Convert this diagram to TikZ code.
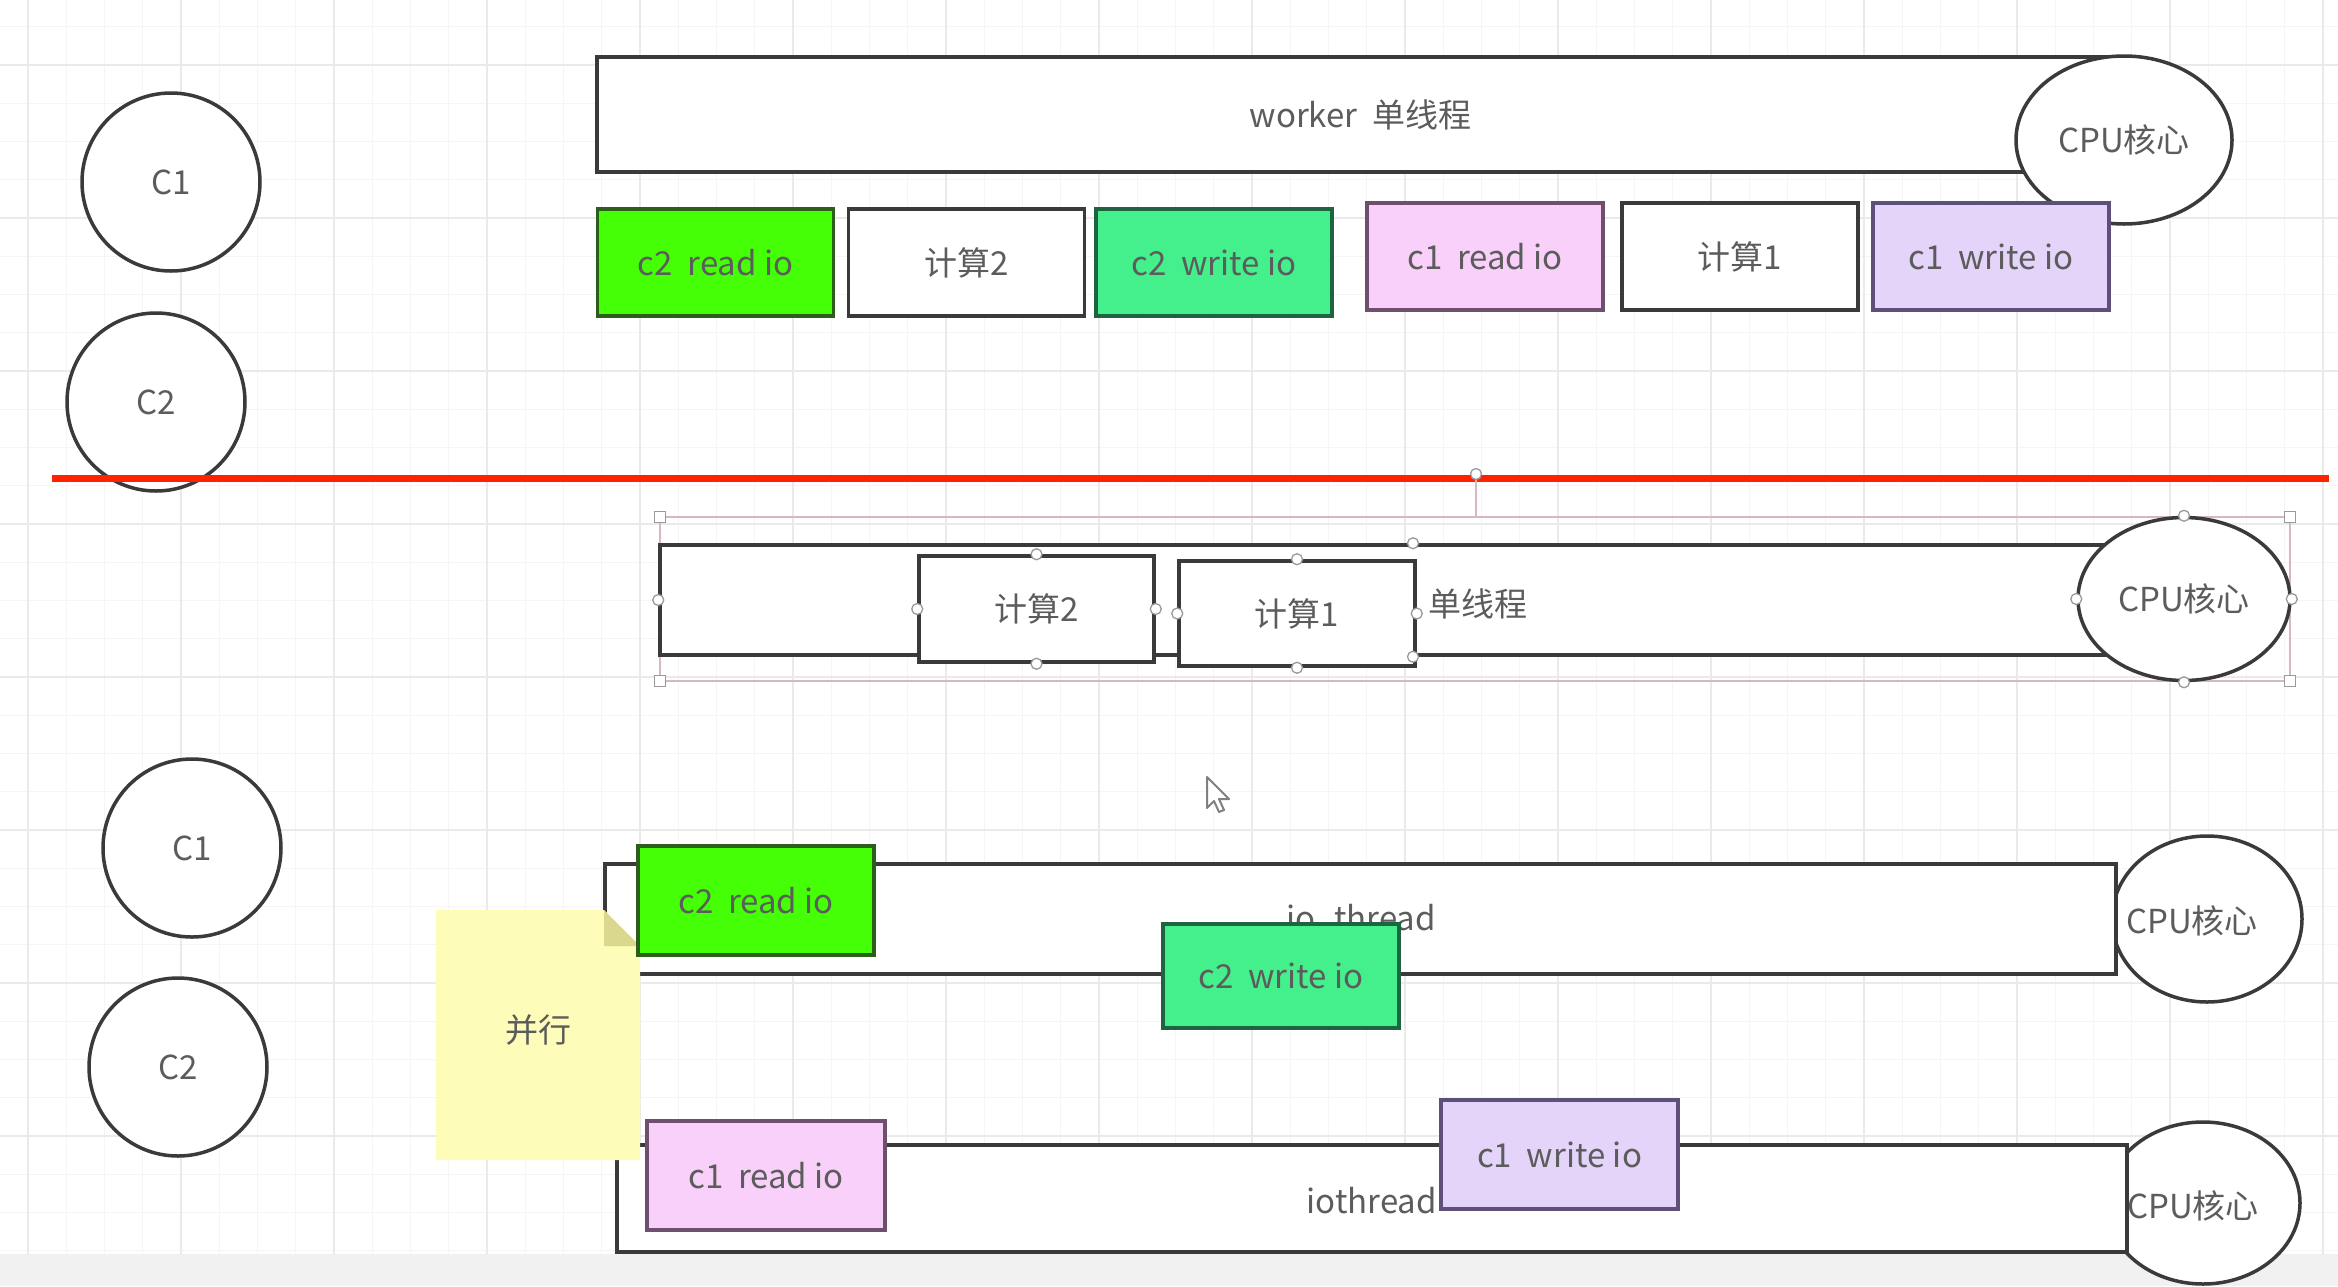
\documentclass[tikz,border=0pt]{standalone}
\usepackage{fontspec}
\setmainfont{Noto Sans CJK SC}
\usetikzlibrary{shapes.geometric}
\definecolor{ink}{HTML}{3A3A3A}
\definecolor{txt}{HTML}{5C5C5C}
\definecolor{gA}{HTML}{44FF06}
\definecolor{gAb}{HTML}{2B5E1A}
\definecolor{gB}{HTML}{44F08C}
\definecolor{gBb}{HTML}{1F6440}
\definecolor{pk}{HTML}{F9D0FA}
\definecolor{pkb}{HTML}{6E506E}
\definecolor{lv}{HTML}{E4D4FA}
\definecolor{lvb}{HTML}{5E5078}
\definecolor{notec}{HTML}{FDFCB8}
\definecolor{foldc}{HTML}{D9D88E}
\definecolor{redl}{HTML}{FF2200}
\definecolor{gridmin}{HTML}{F5F5F5}
\definecolor{gridmaj}{HTML}{EAEAEA}
\definecolor{bandc}{HTML}{F1F1F1}
\definecolor{selc}{HTML}{D6B9BE}
\definecolor{hdlc}{HTML}{9A9A9A}
\tikzset{
  lbl/.style={text=txt, font=\fontsize{33}{40}\selectfont},
  shp/.style={draw=ink, line width=3.5pt, fill=white, lbl, inner sep=0pt},
  barbox/.style={shp, rectangle},
  oval/.style={shp, ellipse},
  client/.style={oval, minimum width=178pt, minimum height=178pt},
  task/.style={shp, rectangle, minimum width=236pt, minimum height=107pt},
  taskG/.style={task, fill=gA, draw=gAb},
  taskS/.style={task, fill=gB, draw=gBb},
  taskP/.style={task, fill=pk, draw=pkb},
  taskL/.style={task, fill=lv, draw=lvb},
  hdl/.style={circle, draw=hdlc, fill=white, line width=1.3pt, minimum size=11pt, inner sep=0pt},
  hdlsq/.style={rectangle, draw=hdlc, fill=white, line width=1.3pt, minimum size=11pt, inner sep=0pt},
  selline/.style={draw=selc, line width=1.3pt},
}
\begin{document}
\begin{tikzpicture}[x=1pt,y=-1pt]
\useasboundingbox (0,0) rectangle (2338,1286);
\fill[white] (0,0) rectangle (2338,1286);
% grid
\foreach \k in {0,...,60} \draw[gridmin, line width=1.2pt] ({28+38.25*\k},0) -- ({28+38.25*\k},1254);
\foreach \k in {0,...,32} \draw[gridmin, line width=1.2pt] (0,{26.75+38.25*\k}) -- (2338,{26.75+38.25*\k});
\foreach \k in {0,...,15} \draw[gridmaj, line width=1.5pt] ({28+153*\k},0) -- ({28+153*\k},1254);
\foreach \k in {0,...,7} \draw[gridmaj, line width=1.5pt] (0,{65+153*\k}) -- (2338,{65+153*\k});
\fill[bandc] (0,1254) rectangle (2338,1286);

% ===== top section =====
\node[client] (c1t) at (171,182) {C1};
\node[client] (c2t) at (156,402) {C2};
\node[barbox, minimum width=1527pt, minimum height=115pt] (wbar) at (1360.5,114.5) {worker\ \ 单线程};
\node[oval, minimum width=216pt, minimum height=168pt] (cput) at (2124,140) {CPU核心};
\node[taskG] (t1) at (715.5,262.5) {c2\ \ read io};
\node[task]  (t2) at (966.5,262.5) {计算2};
\node[taskS] (t3) at (1214,262.5) {c2\ \ write io};
\node[taskP] (t4) at (1485,256.5) {c1\ \ read io};
\node[task]  (t5) at (1740,256.5) {计算1};
\node[taskL] (t6) at (1991,256.5) {c1\ \ write io};

% separator
\coordinate (rlA) at (52,478);
\coordinate (rlB) at (2329,478);
\draw[redl, line width=7pt] (rlA) -- (rlB);

% ===== middle section =====
\coordinate (selA) at (660,517);
\coordinate (selB) at (2290,681);
\draw[selline] (selA) rectangle (selB);
\coordinate (rotb) at (1476,517);
\node[hdl] (rot) at (1476,474) {};
\draw[selline] (rot) -- (rotb);
\node[barbox, minimum width=1506pt, minimum height=110pt] (mbar) at (1413,600) {};
\node[oval, minimum width=212pt, minimum height=163pt] (cpum) at (2184,599) {CPU核心};
\node[task, minimum width=235pt, minimum height=106pt] (k2m) at (1036.5,609) {计算2};
\node[task, minimum width=236pt, minimum height=105pt] (k1m) at (1297,613.5) {计算1};
\node[lbl, anchor=west, inner sep=0pt] (dxc) at (1428,604) {单线程};
\foreach \p in {mbar.west,mbar.north,mbar.south,
                k2m.north,k2m.south,k2m.west,k2m.east,
                k1m.north,k1m.south,k1m.west,k1m.east,
                cpum.north,cpum.south,cpum.west,cpum.east}
  \node[hdl] at (\p) {};
\node[hdlsq] at (660,517) {};
\node[hdlsq] at (660,681) {};
\node[hdlsq] at (2290,517) {};
\node[hdlsq] at (2290,681) {};

% cursor
\draw[fill=white, draw=gray, line width=2pt, line join=round]
  (1207,777) -- ++(0,31) -- ++(7,-7) -- ++(5,11) -- ++(5,-2) -- ++(-5,-11) -- ++(10,0) -- cycle;

% ===== bottom section =====
\node[client] (c1b) at (192,848) {C1};
\node[client] (c2b) at (178,1067) {C2};
\node[oval, minimum width=190pt, minimum height=166pt] (cpub1) at (2207,919) {};
\node[barbox, minimum width=1511pt, minimum height=110pt] (iob1) at (1360.5,919) {};
\node[lbl, inner sep=0pt] (cpub1t) at (2192,921) {CPU核心};
\node[lbl, anchor=base east, inner sep=0pt] (iot1) at (1436,930) {io\_thread};
\node[oval, minimum width=194pt, minimum height=162pt] (cpub2) at (2203,1203) {};
\node[barbox, minimum width=1510pt, minimum height=107pt] (iob2) at (1372,1198.5) {};
\node[lbl, inner sep=0pt] (cpub2t) at (2193,1206) {CPU核心};
\node[lbl, anchor=base east, inner sep=0pt] (iot2) at (1437,1213) {iothread};

% sticky note
\fill[notec] (436,910) -- (604,910) -- (640,946) -- (640,1160) -- (436,1160) -- cycle;
\fill[foldc] (604,910) -- (604,946) -- (640,946) -- cycle;
\node[lbl, inner sep=0pt] (par) at (538,1030) {并行};

\node[taskG, minimum height=109pt] (b1) at (756,900.5) {c2\ \ read io};
\node[taskS, minimum height=104pt] (b2) at (1281,976) {c2\ \ write io};
\node[taskP, minimum width=238pt, minimum height=109pt] (b3) at (766,1175.5) {c1\ \ read io};
\node[taskL, minimum width=237pt, minimum height=109pt] (b4) at (1559.5,1154.5) {c1\ \ write io};
\end{tikzpicture}
\end{document}
